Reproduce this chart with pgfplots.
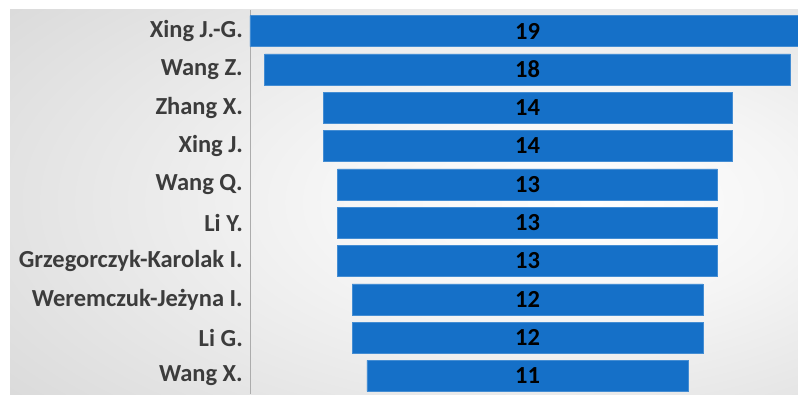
\documentclass[border=0pt]{standalone}
\usepackage{pgfplots}
\pgfplotsset{compat=1.18}
\usepackage{fontspec}
\setmainfont{Carlito}
\definecolor{barblue}{RGB}{21,112,200}
\definecolor{lab}{RGB}{60,60,60}
\pgfdeclareradialshading{bgshade}{\pgfpoint{12bp}{0bp}}{color(0bp)=(white); color(15bp)=(black!4); color(40bp)=(black!14); color(62bp)=(black!24); color(90bp)=(black!30)}
\pgfplotstableread{
y off v
0 0   19
1 0.5 18
2 2.5 14
3 2.5 14
4 3   13
5 3   13
6 3   13
7 3.5 12
8 3.5 12
9 4   11
}\funnel
\begin{document}
\begin{tikzpicture}[x=1pt,y=1pt]
\path[use as bounding box] (0,0) rectangle (798,394);
\shade[shading=bgshade] (10,0) rectangle (798,384);
\begin{axis}[
  at={(250pt,0pt)}, anchor=south west,
  scale only axis, width=555pt, height=384pt,
  xbar stacked, bar width=31pt,
  xmin=0, xmax=19,
  ymin=-0.548, ymax=9.47, y dir=reverse,
  axis x line=none, axis y line*=left,
  y axis line style={draw=gray!65, -},
  ytick=data,
  yticklabels={Xing J.-G.,Wang Z.,Zhang X.,Xing J.,Wang Q.,Li Y.,Grzegorczyk-Karolak I.,Weremczuk-Jeżyna I.,Li G.,Wang X.},
  ytick style={draw=none},
  yticklabel style={font=\fontsize{24.5}{28}\selectfont\bfseries, text=lab, inner sep=0pt, xshift=-7pt},
  /pgf/number format/assume math mode=true,
]
\addplot[draw=none, fill=none] table[x=off, y=y] {\funnel};
\addplot[fill=barblue, draw=barblue!80!white, nodes near coords,
  every node near coord/.style={text=black, font=\fontsize{24.5}{28}\selectfont\bfseries}]
  table[x=v, y=y] {\funnel};
\end{axis}
\end{tikzpicture}
\end{document}
